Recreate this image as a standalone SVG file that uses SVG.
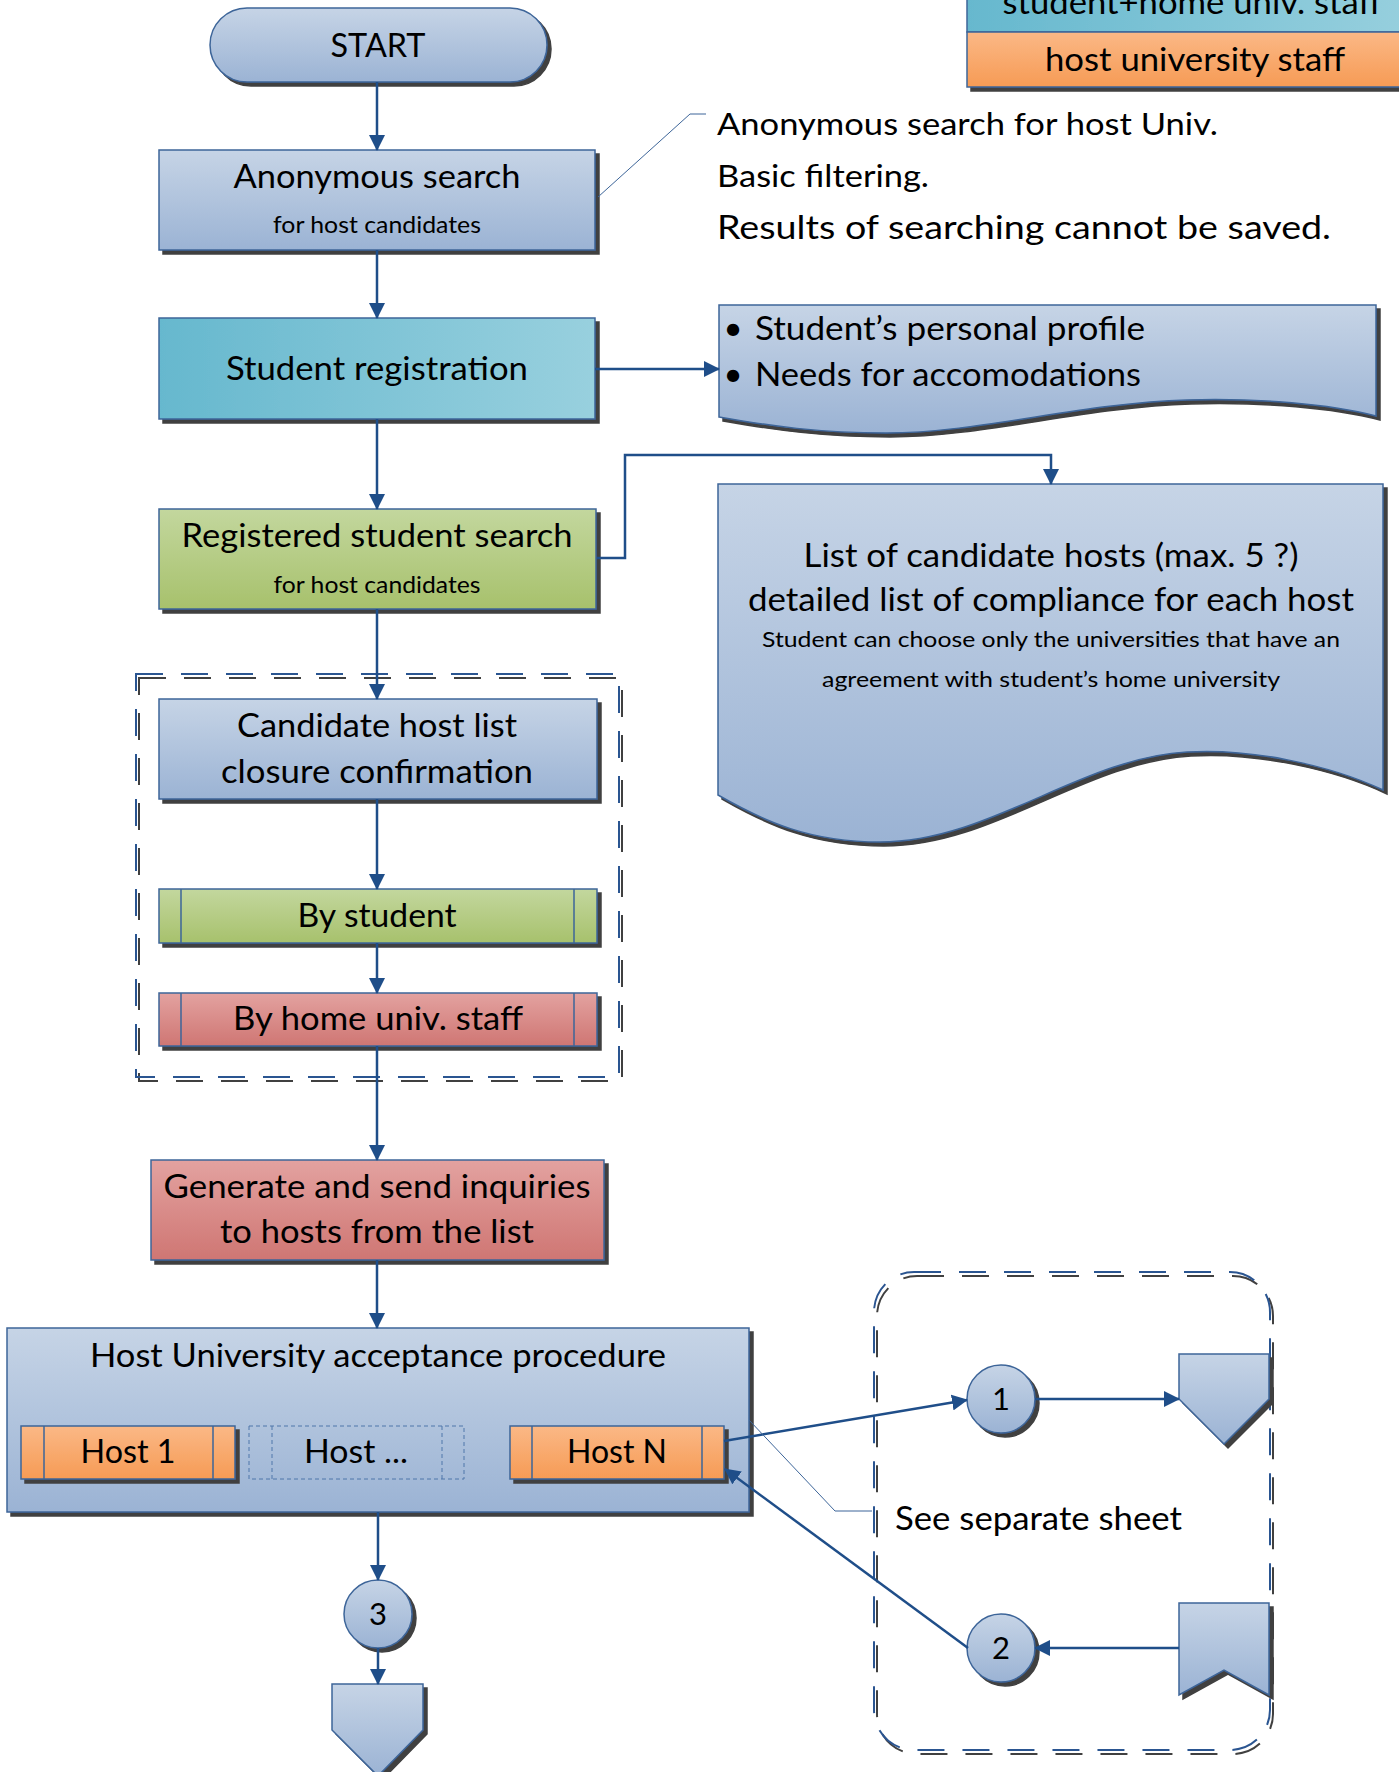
<svg xmlns="http://www.w3.org/2000/svg" width="1399" height="1772" viewBox="0 0 1399 1772">
<style>
.t{font-family:Lato,"Liberation Sans",sans-serif;fill:#000}
.m{text-anchor:middle}
.b{stroke:#3d6599;stroke-width:1.5}
.conn{stroke:#1f4e89;stroke-width:2.5;fill:none;marker-end:url(#arr)}
.call{stroke:#3d6599;stroke-width:1;fill:none}
.dash{fill:none;stroke:#2b5591;stroke-width:2;stroke-dasharray:27 18}
</style>
<defs>
<linearGradient id="gBlue" x1="0" y1="0" x2="0" y2="1"><stop offset="0" stop-color="#c6d4e6"/><stop offset="1" stop-color="#9bb3d4"/></linearGradient>
<linearGradient id="gTeal" x1="0" y1="0" x2="1" y2="0"><stop offset="0" stop-color="#66b8ce"/><stop offset="1" stop-color="#98d0de"/></linearGradient>
<linearGradient id="gGreen" x1="0" y1="0" x2="0" y2="1"><stop offset="0" stop-color="#c3d79e"/><stop offset="1" stop-color="#a7c16c"/></linearGradient>
<linearGradient id="gRed" x1="0" y1="0" x2="0" y2="1"><stop offset="0" stop-color="#e3a2a0"/><stop offset="1" stop-color="#cf7673"/></linearGradient>
<linearGradient id="gOrange" x1="0" y1="0" x2="0" y2="1"><stop offset="0" stop-color="#fbb886"/><stop offset="1" stop-color="#f69b55"/></linearGradient>
<filter id="sh" x="-10%" y="-10%" width="130%" height="130%">
<feFlood flood-color="#404040"/><feComposite in2="SourceAlpha" operator="in"/><feOffset dx="4" dy="4" result="s"/>
<feMerge><feMergeNode in="s"/><feMergeNode in="SourceGraphic"/></feMerge>
</filter>
<filter id="sh2" x="-10%" y="-10%" width="130%" height="130%">
<feFlood flood-color="#404040"/><feComposite in2="SourceAlpha" operator="in"/><feOffset dx="3" dy="4" result="s"/>
<feMerge><feMergeNode in="s"/><feMergeNode in="SourceGraphic"/></feMerge>
</filter>
<marker id="arr" viewBox="0 0 16 16" markerWidth="16" markerHeight="16" refX="15" refY="8" orient="auto" markerUnits="userSpaceOnUse">
<path d="M0,0 L16,8 L0,16 z" fill="#1f4e89"/>
</marker>
</defs>
<rect width="1399" height="1772" fill="#fff"/>

<g id="legend">
<rect class="b" x="967" y="-40" width="454" height="72" fill="url(#gTeal)" filter="url(#sh)"/>
<rect class="b" x="967" y="32" width="454" height="55" fill="url(#gOrange)" filter="url(#sh)"/>
<text class="t m" x="1192" y="14" font-size="33" textLength="379" lengthAdjust="spacingAndGlyphs">student+home univ. staff</text>
<text class="t m" x="1195" y="71" font-size="33" textLength="300" lengthAdjust="spacingAndGlyphs">host university staff</text>
</g>

<g id="containers">
<rect class="dash" x="136" y="674" width="483" height="403" filter="url(#sh2)"/>
<rect class="dash" x="874" y="1272" width="396" height="478" rx="40" filter="url(#sh2)"/>
</g>

<g id="n-start">
<rect class="b" x="210" y="8" width="337" height="74" rx="37" fill="url(#gBlue)" filter="url(#sh)"/>
<text class="t m" x="378" y="57" font-size="33" textLength="95" lengthAdjust="spacingAndGlyphs">START</text>
</g>

<g id="n-anon">
<rect class="b" x="159" y="150" width="436" height="100" fill="url(#gBlue)" filter="url(#sh)"/>
<text class="t m" x="377" y="188" font-size="33" textLength="287" lengthAdjust="spacingAndGlyphs">Anonymous search</text>
<text class="t m" x="377" y="233" font-size="24" textLength="208" lengthAdjust="spacingAndGlyphs">for host candidates</text>
</g>

<g id="n-note">
<text class="t" x="717" y="135" font-size="30" textLength="501" lengthAdjust="spacingAndGlyphs">Anonymous search for host Univ.</text>
<text class="t" x="717" y="187" font-size="30" textLength="212" lengthAdjust="spacingAndGlyphs">Basic filtering.</text>
<text class="t" x="717" y="239" font-size="32" textLength="614" lengthAdjust="spacingAndGlyphs">Results of searching cannot be saved.</text>
</g>

<g id="n-reg">
<rect class="b" x="159" y="318" width="436" height="101" fill="url(#gTeal)" filter="url(#sh)"/>
<text class="t m" x="377" y="380" font-size="33" textLength="302" lengthAdjust="spacingAndGlyphs">Student registration</text>
</g>

<g id="n-profile">
<path class="b" d="M719,305 H1376 V416 C1330,404 1260,398 1187,400 C1080,403 980,433 886,433 C820,433 770,426 719,417 Z" fill="url(#gBlue)" filter="url(#sh)"/>
<text class="t m" x="733" y="340" font-size="33">•</text>
<text class="t" x="755" y="340" font-size="33" textLength="390" lengthAdjust="spacingAndGlyphs">Student’s personal profile</text>
<text class="t m" x="733" y="386" font-size="33">•</text>
<text class="t" x="755" y="386" font-size="33" textLength="386" lengthAdjust="spacingAndGlyphs">Needs for accomodations</text>
</g>

<g id="n-regsearch">
<rect class="b" x="159" y="509" width="437" height="100" fill="url(#gGreen)" filter="url(#sh)"/>
<text class="t m" x="377" y="547" font-size="33" textLength="391" lengthAdjust="spacingAndGlyphs">Registered student search</text>
<text class="t m" x="377" y="593" font-size="24" textLength="207" lengthAdjust="spacingAndGlyphs">for host candidates</text>
</g>

<g id="n-list">
<path class="b" d="M718,484 H1383 V790 C1330,765 1250,748 1187,752 C1080,758 990,842 880,842 C810,842 765,822 718,795 Z" fill="url(#gBlue)" filter="url(#sh)"/>
<text class="t m" x="1051" y="567" font-size="33" textLength="495" lengthAdjust="spacingAndGlyphs">List of candidate hosts (max. 5 ?)</text>
<text class="t m" x="1051" y="611" font-size="33" textLength="606" lengthAdjust="spacingAndGlyphs">detailed list of compliance for each host</text>
<text class="t m" x="1051" y="647" font-size="22" textLength="578" lengthAdjust="spacingAndGlyphs">Student can choose only the universities that have an</text>
<text class="t m" x="1051" y="687" font-size="22" textLength="458" lengthAdjust="spacingAndGlyphs">agreement with student’s home university</text>
</g>

<g id="n-closure">
<rect class="b" x="159" y="699" width="438" height="100" fill="url(#gBlue)" filter="url(#sh)"/>
<text class="t m" x="377" y="737" font-size="33" textLength="280" lengthAdjust="spacingAndGlyphs">Candidate host list</text>
<text class="t m" x="377" y="783" font-size="33" textLength="312" lengthAdjust="spacingAndGlyphs">closure confirmation</text>
</g>

<g id="n-bystudent">
<rect class="b" x="159" y="889" width="438" height="54" fill="url(#gGreen)" filter="url(#sh)"/>
<path class="b" d="M181,889 V943 M574,889 V943" fill="none"/>
<text class="t m" x="377" y="927" font-size="33" textLength="159" lengthAdjust="spacingAndGlyphs">By student</text>
</g>

<g id="n-byhome">
<rect class="b" x="159" y="993" width="438" height="53" fill="url(#gRed)" filter="url(#sh)"/>
<path class="b" d="M181,993 V1046 M574,993 V1046" fill="none"/>
<text class="t m" x="378" y="1030" font-size="33" textLength="290" lengthAdjust="spacingAndGlyphs">By home univ. staff</text>
</g>

<g id="n-generate">
<rect class="b" x="151" y="1160" width="453" height="100" fill="url(#gRed)" filter="url(#sh)"/>
<text class="t m" x="377" y="1198" font-size="33" textLength="427" lengthAdjust="spacingAndGlyphs">Generate and send inquiries</text>
<text class="t m" x="377" y="1243" font-size="33" textLength="314" lengthAdjust="spacingAndGlyphs">to hosts from the list</text>
</g>

<g id="n-hostproc">
<rect class="b" x="7" y="1328" width="742" height="184" fill="url(#gBlue)" filter="url(#sh)"/>
<text class="t m" x="378" y="1367" font-size="33" textLength="576" lengthAdjust="spacingAndGlyphs">Host University acceptance procedure</text>
</g>

<g id="n-host1">
<rect class="b" x="21" y="1426" width="214" height="53" fill="url(#gOrange)" filter="url(#sh)"/>
<path class="b" d="M44,1426 V1479 M213,1426 V1479" fill="none"/>
<text class="t m" x="128" y="1463" font-size="33" textLength="95" lengthAdjust="spacingAndGlyphs">Host 1</text>
</g>

<g id="n-hostdots">
<rect x="249" y="1426" width="215" height="53" fill="none" stroke="#4f76aa" stroke-width="1" stroke-dasharray="4 3"/>
<path d="M272,1426 V1479 M442,1426 V1479" fill="none" stroke="#4f76aa" stroke-width="1" stroke-dasharray="4 3"/>
<text class="t m" x="356" y="1463" font-size="33" textLength="104" lengthAdjust="spacingAndGlyphs">Host ...</text>
</g>

<g id="n-hostN">
<rect class="b" x="510" y="1426" width="214" height="53" fill="url(#gOrange)" filter="url(#sh)"/>
<path class="b" d="M532,1426 V1479 M702,1426 V1479" fill="none"/>
<text class="t m" x="617" y="1463" font-size="33" textLength="100" lengthAdjust="spacingAndGlyphs">Host N</text>
</g>

<g id="n-c1">
<circle class="b" cx="1001" cy="1399" r="34" fill="url(#gBlue)" filter="url(#sh)"/>
<text class="t m" x="1001" y="1410" font-size="31">1</text>
</g>

<g id="n-c2">
<circle class="b" cx="1001" cy="1648" r="34" fill="url(#gBlue)" filter="url(#sh)"/>
<text class="t m" x="1001" y="1659" font-size="31">2</text>
</g>

<g id="n-c3">
<circle class="b" cx="378" cy="1614" r="34" fill="url(#gBlue)" filter="url(#sh)"/>
<text class="t m" x="378" y="1625" font-size="31">3</text>
</g>

<g id="n-offpage-out">
<path class="b" d="M1179,1354 H1269 V1399 L1224,1444 L1179,1399 Z" fill="url(#gBlue)" filter="url(#sh)"/>
</g>

<g id="n-offpage-in">
<path class="b" d="M1179,1603 H1269 V1695 L1224,1670 L1179,1695 Z" fill="url(#gBlue)" filter="url(#sh)"/>
</g>

<g id="n-offpage-3">
<path class="b" d="M332,1684 H423 V1730 L378,1776 L332,1730 Z" fill="url(#gBlue)" filter="url(#sh)"/>
</g>

<g id="n-see">
<text class="t" x="895" y="1530" font-size="32" textLength="287" lengthAdjust="spacingAndGlyphs">See separate sheet</text>
</g>

<g id="connectors">
<path class="conn" d="M377,82 V150"/>
<path class="conn" d="M377,250 V318"/>
<path class="conn" d="M595,369 H719"/>
<path class="conn" d="M377,419 V509"/>
<path class="conn" d="M597,558 H625 V455 H1051 V484"/>
<path class="conn" d="M377,609 V699"/>
<path class="conn" d="M377,799 V889"/>
<path class="conn" d="M377,943 V993"/>
<path class="conn" d="M377,1046 V1160"/>
<path class="conn" d="M377,1260 V1328"/>
<path class="conn" d="M724,1441 L967,1400"/>
<path class="conn" d="M1035,1399 H1179"/>
<path class="conn" d="M1179,1648 H1035"/>
<path class="conn" d="M968,1648 L725,1469"/>
<path class="conn" d="M378,1512 V1580"/>
<path class="conn" d="M378,1648 V1684"/>
<path class="call" d="M598,197 L690,114 H706"/>
<path class="call" d="M749,1420 L835,1511 H872"/>
</g>
</svg>
